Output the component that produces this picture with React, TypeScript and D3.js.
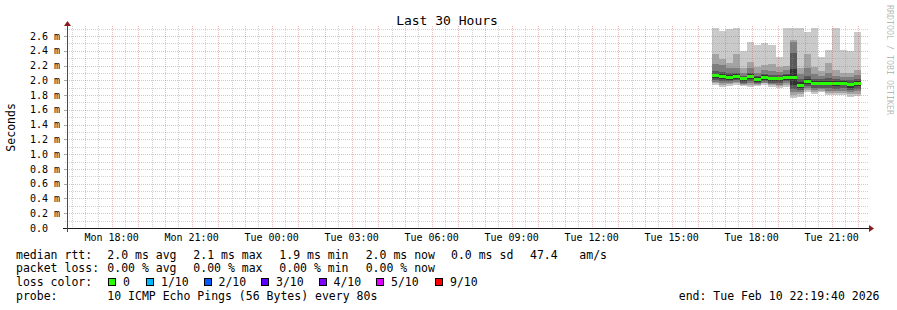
import React from "react";
import * as d3 from "d3";

// ---------- data ----------
const END_TIME = Date.UTC(2026, 1, 10, 22, 19, 40);
const SPAN_HOURS = 30;
const STEP_MIN = 16;
const Y_MAX = 2.708;

const colTimes = [
  "16:30", "16:46", "17:02", "17:18", "17:34", "17:50", "18:06", "18:22", "18:38", "18:54", "19:10",
  "19:26", "19:42", "19:58", "20:14", "20:30", "20:46", "21:02", "21:18", "21:34", "21:50",
];
// sorted pings per column (ms): ping1 = min ... ping10 = max
const ping10 = [2.71, 2.67, 2.69, 2.71, 2.39, 2.52, 2.48, 2.51, 2.48, 2.32, 2.71, 2.71, 2.71, 2.65, 2.71, 2.32, 2.41, 2.71, 2.41, 2.40, 2.66];
const ping9 = [2.35, 2.29, 2.23, 2.35, 2.16, 2.25, 2.18, 2.21, 2.22, 2.18, 2.19, 2.55, 2.16, 2.36, 2.18, 2.12, 2.23, 2.14, 2.10, 2.10, 2.14];
const ping8 = [2.22, 2.21, 2.16, 2.16, 2.10, 2.16, 2.10, 2.14, 2.12, 2.11, 2.14, 2.52, 2.08, 2.16, 2.08, 2.06, 2.10, 2.06, 2.05, 2.04, 2.07];
const ping7 = [2.12, 2.11, 2.10, 2.10, 2.06, 2.10, 2.06, 2.09, 2.07, 2.07, 2.09, 2.37, 2.02, 2.06, 2.02, 2.02, 2.03, 2.02, 2.01, 2.00, 2.02];
const ping6 = [2.09, 2.08, 2.07, 2.08, 2.05, 2.08, 2.04, 2.07, 2.05, 2.05, 2.07, 2.15, 1.98, 2.02, 1.99, 1.99, 1.99, 1.99, 1.99, 1.97, 1.99];
const ping5 = [2.03, 2.02, 2.01, 2.02, 1.99, 2.02, 1.98, 2.01, 1.99, 1.99, 2.01, 1.93, 1.90, 1.95, 1.93, 1.93, 1.93, 1.92, 1.93, 1.90, 1.92];
const ping4 = [2.00, 1.99, 1.99, 2.00, 1.97, 1.99, 1.96, 1.99, 1.97, 1.96, 1.99, 1.88, 1.87, 1.92, 1.90, 1.90, 1.89, 1.88, 1.89, 1.87, 1.88];
const ping3 = [1.98, 1.97, 1.97, 1.98, 1.95, 1.97, 1.95, 1.97, 1.95, 1.94, 1.97, 1.84, 1.84, 1.89, 1.87, 1.88, 1.86, 1.85, 1.86, 1.84, 1.85];
const ping2 = [1.96, 1.94, 1.95, 1.96, 1.94, 1.94, 1.94, 1.96, 1.94, 1.92, 1.94, 1.80, 1.81, 1.87, 1.84, 1.86, 1.83, 1.83, 1.83, 1.81, 1.82];
const ping1 = [1.936, 1.913, 1.92, 1.936, 1.92, 1.913, 1.92, 1.936, 1.913, 1.891, 1.913, 1.756, 1.778, 1.846, 1.815, 1.846, 1.80, 1.80, 1.80, 1.778, 1.787];
const medianRtt = [2.067, 2.056, 2.05, 2.063, 2.027, 2.06, 2.02, 2.05, 2.025, 2.025, 2.05, 2.05, 1.942, 1.995, 1.967, 1.967, 1.967, 1.967, 1.967, 1.946, 1.967];

const yTicks = [0, 0.2, 0.4, 0.6, 0.8, 1.0, 1.2, 1.4, 1.6, 1.8, 2.0, 2.2, 2.4, 2.6];
const yMinor = [0.1, 0.3, 0.5, 0.7, 0.9, 1.1, 1.3, 1.5, 1.7, 1.9, 2.1, 2.3, 2.5, 2.7];

const smokeColors = ["#cacaca", "#a4a4a4", "#7e7e7e", "#585858", "#323232"];
const lossColors = ["#26ff00", "#00b8ff", "#0059ff", "#5e00ff", "#7e00ff", "#dd00ff", "#ff0000"];
const lossLabels = ["0", "1/10", "2/10", "3/10", "4/10", "5/10", "9/10"];

const statNames = ["avg", "max", "min", "now"];
const rttStats = ["2.0", "2.1", "1.9", "2.0"];
const lossStats = ["0.00", "0.00", "0.00", "0.00"];
const rttSd = "0.0";
const amsValue = "47.4";
const probeText = "10 ICMP Echo Pings (56 Bytes) every 80s";
const endText = "end: Tue Feb 10 22:19:40 2026";
const titleText = "Last 30 Hours";
const yTitle = "Seconds";
const watermark = "RRDTOOL / TOBI OETIKER";

// ---------- layout ----------
const W = 897, H = 310;
const X0 = 67, X1 = 867, Y0 = 228, Y1 = 28;
const FONT = "'DejaVu Sans Mono', monospace";

export default function App() {
  const x = d3.scaleUtc().domain([END_TIME - SPAN_HOURS * 3600e3, END_TIME]).range([X0, X1]);
  const y = d3.scaleLinear().domain([0, Y_MAX]).range([Y0, Y1]);
  const [d0, d1] = x.domain() as Date[];

  const colStart = colTimes.map((s) => {
    const [h, m] = s.split(":").map(Number);
    return new Date(Date.UTC(2026, 1, 10, h, m));
  });
  const colEnd = colStart.map((d) => d3.utcMinute.offset(d, STEP_MIN));

  const pairs = [
    [ping1, ping10],
    [ping2, ping9],
    [ping3, ping8],
    [ping4, ping7],
    [ping5, ping6],
  ];

  const minorX = d3.utcMinute.every(30)!.range(d0, d1);
  const majorX = d3.utcHour.every(1)!.range(d0, d1);
  const labelX = d3.utcHour.every(3)!.range(d0, d1);
  const fmt = d3.utcFormat("%a %H:%M");

  const px = (t: Date) => Math.round(x(t)) + 0.5;
  const py = (v: number) => Math.round(y(v)) + 0.5;

  const minorGrid = "rgba(143,143,143,0.4)";
  const majorGrid = "rgba(222,80,80,0.4)";

  const statX = [107.3, 193.3, 279.3, 365.7];
  const rowY = [258.5, 272.2, 285.9, 299.6];
  const squareX = [108, 146, 203.5, 261, 318.5, 376, 435];

  return (
    <svg width={W} height={H} style={{ position: "absolute", left: 0, top: 0, display: "block", background: "#fff" }}
      fontFamily={FONT}>
      <rect x={0} y={0} width={W} height={H} fill="#ffffff" />
      {/* smoke */}
      <g shapeRendering="crispEdges">
        {pairs.map(([lo, hi], li) =>
          colStart.map((t, i) => {
            const xa = Math.round(x(t));
            const xb = Math.round(x(colEnd[i]));
            const ya = Math.round(y(hi[i]));
            const yb = Math.round(y(lo[i]));
            return <rect key={`s${li}-${i}`} x={xa} y={ya} width={xb - xa} height={Math.max(0, yb - ya)} fill={smokeColors[li]} />;
          })
        )}
        {colStart.map((t, i) => {
          const xa = Math.round(x(t));
          const xb = Math.round(x(colEnd[i]));
          const ym = Math.round(y(medianRtt[i]));
          return <rect key={`m${i}`} x={xa} y={ym - 1} width={xb - xa} height={3} fill={lossColors[0]} />;
        })}
      </g>
      {/* grid */}
      <g shapeRendering="crispEdges">
        {yMinor.map((v) => (
          <line key={`ym${v}`} x1={X0 - 2} x2={X1 + 2} y1={py(v)} y2={py(v)} stroke={minorGrid} strokeDasharray="1,1" />
        ))}
        {yTicks.filter((v) => v > 0).map((v) => (
          <line key={`yM${v}`} x1={X0 - 2} x2={X1 + 2} y1={py(v)} y2={py(v)} stroke={majorGrid} strokeDasharray="1,1" />
        ))}
        {yTicks.filter((v) => v > 0).map((v) => (
          <line key={`yt${v}`} x1={X0 - 3} x2={X0} y1={py(v)} y2={py(v)} stroke="#a8a8a8" />
        ))}
        {minorX.filter((t) => t.getUTCMinutes() !== 0).map((t) => (
          <line key={`xm${+t}`} x1={px(t)} x2={px(t)} y1={Y1 - 2} y2={Y0 + 2} stroke={minorGrid} strokeDasharray="1,1" />
        ))}
        {majorX.map((t) => (
          <line key={`xM${+t}`} x1={px(t)} x2={px(t)} y1={Y1 - 2} y2={Y0 + 2} stroke={majorGrid} strokeDasharray="1,1" />
        ))}
      </g>
      {/* axes */}
      <g shapeRendering="crispEdges">
        <line x1={X0 - 4} x2={X1 + 4} y1={Y0 + 0.5} y2={Y0 + 0.5} stroke="#1a1a1a" />
        <line x1={X0 + 0.5} x2={X0 + 0.5} y1={Y0 + 4} y2={Y1 - 4} stroke="#4a4a4a" />
      </g>
      <path d={`M${X1 + 2},${Y0 - 3} L${X1 + 2},${Y0 + 4} L${X1 + 7},${Y0 + 0.5} Z`} fill="#8b1a1a" />
      <path d={`M${X0 - 3},${Y1 - 2} L${X0 + 4},${Y1 - 2} L${X0 + 0.5},${Y1 - 7} Z`} fill="#8b1a1a" />
      {/* y labels */}
      <g fontSize={10} fill="#000">
        {yTicks.map((v) => (
          <text key={`yl${v}`} x={v === 0 ? 48 : 60} y={y(v) + 3.6} textAnchor="end">
            {v === 0 ? "0.0" : `${v.toFixed(1)} m`}
          </text>
        ))}
      </g>
      {/* x labels */}
      <g fontSize={10} fill="#000">
        {labelX.map((t) => (
          <text key={`xl${+t}`} x={x(t)} y={240.7} textAnchor="middle">{fmt(t)}</text>
        ))}
      </g>
      {/* title */}
      <text x={447} y={25} fontSize={13} textAnchor="middle" fill="#000">{titleText}</text>
      {/* y title */}
      <text transform={`translate(15,127.4) rotate(-90)`} fontSize={11.5} textAnchor="middle" fill="#000">{yTitle}</text>
      {/* watermark */}
      <text transform={`translate(893,5) rotate(90)`} fontSize={8.3} fill="#000" fillOpacity={0.3} dominantBaseline="hanging">{watermark}</text>
      {/* legend */}
      <g fontSize={11.5} fill="#000" style={{ whiteSpace: "pre" }}>
        <text x={16} y={rowY[0]}>median rtt:</text>
        {rttStats.map((s, i) => (
          <text key={`r${i}`} x={statX[i]} y={rowY[0]}>{`${s} ms ${statNames[i]}`}</text>
        ))}
        <text x={451} y={rowY[0]}>{`${rttSd} ms sd`}</text>
        <text x={530} y={rowY[0]}>{amsValue}</text>
        <text x={579.3} y={rowY[0]}>am/s</text>

        <text x={16} y={rowY[1]}>packet loss:</text>
        {lossStats.map((s, i) => (
          <text key={`l${i}`} x={statX[i]} y={rowY[1]}>{`${s} % ${statNames[i]}`}</text>
        ))}

        <text x={16} y={rowY[2]}>loss color:</text>
        {lossLabels.map((lab, i) => (
          <g key={`lc${i}`}>
            <rect x={squareX[i] + 0.5} y={278} width={7} height={7} fill={lossColors[i]} stroke="#000" strokeWidth={1} shapeRendering="crispEdges" />
            <text x={squareX[i] + 15} y={rowY[2]}>{lab}</text>
          </g>
        ))}

        <text x={16} y={rowY[3]}>probe:</text>
        <text x={107.3} y={rowY[3]}>{probeText}</text>
        <text x={879.5} y={rowY[3]} textAnchor="end">{endText}</text>
      </g>
    </svg>
  );
}
